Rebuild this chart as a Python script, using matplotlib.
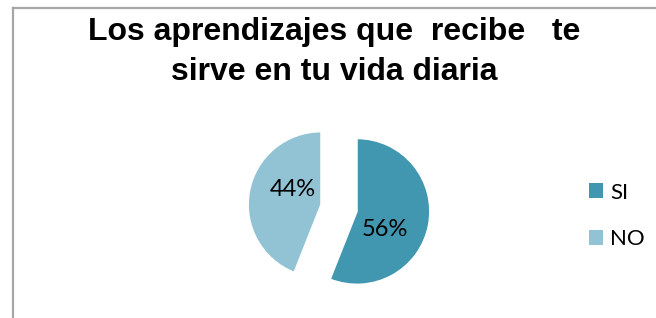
import matplotlib.pyplot as plt
from matplotlib.lines import Line2D
from matplotlib.patches import Patch

# datos
categorias = ["SI", "NO"]
valores = [56, 44]
colores = ["#4197b0", "#92c3d5"]
titulo = "Los aprendizajes que  recibe   te\nsirve en tu vida diaria"

W, H = 656, 318
fig = plt.figure(figsize=(W / 100, H / 100), dpi=100)

# marco gris (solo izquierda y arriba visibles)
fig.add_artist(Line2D([13 / W, 13 / W], [0, 1 - 8 / H], color="#a6a6a6", lw=1.6))
fig.add_artist(Line2D([13 / W, 1], [1 - 8 / H, 1 - 8 / H], color="#a6a6a6", lw=1.6))

# titulo
fig.text(334 / W, 1 - 17 / H, titulo, ha="center", va="top",
         family="Liberation Sans", weight="bold", fontsize=23, linespacing=1.42)

# pastel
r = 73
cx, cy = 339, 208
lado = 3 * r
ax = fig.add_axes([(cx - lado / 2) / W, (H - cy - lado / 2) / H, lado / W, lado / H])
wedges, textos, autotextos = ax.pie(
    valores, colors=colores, startangle=90, counterclock=False,
    explode=[0.25, 0.25], autopct="%d%%", pctdistance=0.47,
    wedgeprops=dict(edgecolor="white", linewidth=1.2),
    textprops=dict(family="Lato", fontsize=17, color="black"))
# ajuste fino de etiquetas como en Excel
dx = [-0.08, 0.07]
dy = [-0.16, 0.12]
for t, a, b in zip(autotextos, dx, dy):
    x, y = t.get_position()
    t.set_position((x + a, y + b))
ax.set_xlim(-1.5, 1.5)
ax.set_ylim(-1.5, 1.5)
ax.set_aspect("equal")
ax.axis("off")

# leyenda
handles = [Patch(facecolor=c, edgecolor="none") for c in colores]
fig.legend(handles, categorias, loc="center left", bbox_to_anchor=(569 / W, 1 - 216 / H),
           frameon=False, prop=dict(family="Lato", size=16),
           handlelength=0.65, handleheight=0.65, handletextpad=0.3, labelspacing=1.2)

fig.savefig("out.png", dpi=100)
